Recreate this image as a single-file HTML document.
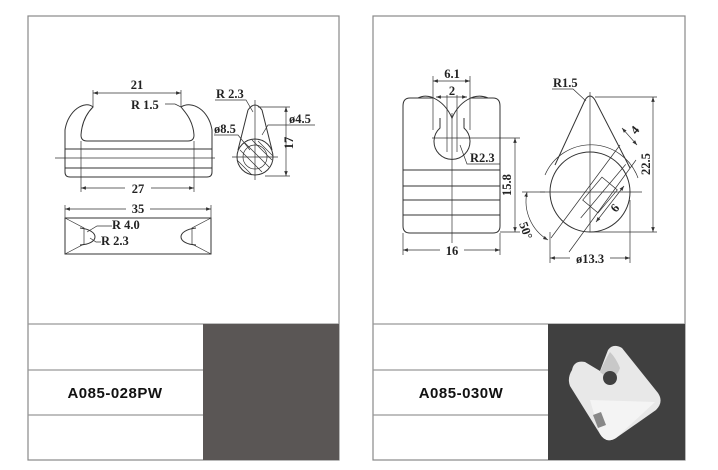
<!DOCTYPE html>
<html><head><style>
html,body{margin:0;padding:0;background:#fff;width:718px;height:470px;overflow:hidden}
svg{display:block}
text{font-family:"Liberation Serif",serif;font-weight:bold;font-size:12.5px;fill:#222}
.l{stroke:#333;stroke-width:1;fill:none}
.t{stroke:#333;stroke-width:0.7;fill:none}
.p{font-family:"Liberation Sans",sans-serif;font-weight:bold;font-size:15px;letter-spacing:0.5px;fill:#111}
</style></head><body>
<svg width="718" height="470" viewBox="0 0 718 470">
<defs><marker id="a" markerWidth="8" markerHeight="6" refX="7" refY="3" orient="auto-start-reverse"><path d="M0,0.5 L7,3 L0,5.5" fill="#333"/></marker></defs>
<rect x="28" y="16" width="311" height="444" fill="#fff" stroke="#888" stroke-width="1.2"/>
<rect x="373" y="16" width="312" height="444" fill="#fff" stroke="#888" stroke-width="1.2"/>
<g stroke="#999" stroke-width="1.2">
<line x1="28" y1="324" x2="339" y2="324"/><line x1="28" y1="370" x2="203" y2="370"/><line x1="28" y1="415" x2="203" y2="415"/>
<line x1="373" y1="324" x2="685" y2="324"/><line x1="373" y1="370" x2="548" y2="370"/><line x1="373" y1="415" x2="548" y2="415"/>
</g>
<rect x="203" y="324" width="136" height="136" fill="#5a5655"/>
<rect x="548" y="324" width="137" height="136" fill="#404040"/>
<text class="p" x="115" y="398" text-anchor="middle">A085-028PW</text>
<text class="p" x="461" y="398" text-anchor="middle">A085-030W</text>

<!-- left drawing -->
<path class="l" d="M93,107 C85,100 68,110 65,130 L65,172 Q65,177 70,177 L207,177 Q212,177 212,172 L212,130 C209,110 192,100 181,107 C185,112 193,120 194,135 Q194,141 188,141 L87,141 Q81,141 81,135 C82,120 88,112 93,107 Z"/>
<line class="l" x1="65" y1="149" x2="212" y2="149"/><line class="l" x1="65" y1="168" x2="212" y2="168"/>
<line class="t" x1="55" y1="158" x2="215" y2="158"/>
<line class="t" x1="81" y1="141" x2="81" y2="192"/><line class="t" x1="194" y1="141" x2="194" y2="192"/>
<line class="t" x1="93" y1="90" x2="93" y2="107"/><line class="t" x1="181" y1="90" x2="181" y2="107"/>
<line class="t" x1="93" y1="93" x2="181" y2="93" marker-start="url(#a)" marker-end="url(#a)"/>
<text x="137" y="89" text-anchor="middle">21</text>
<text x="131" y="109">R 1.5</text>
<path class="t" d="M165,104 L175,104 L181,107"/>
<line class="t" x1="81" y1="188" x2="194" y2="188" marker-start="url(#a)" marker-end="url(#a)"/>
<rect x="125" y="181" width="26" height="13" fill="#fff"/><text x="138" y="193" text-anchor="middle">27</text>
<line class="t" x1="65" y1="205" x2="65" y2="218"/><line class="t" x1="211" y1="205" x2="211" y2="218"/>
<line class="t" x1="65" y1="209" x2="211" y2="209" marker-start="url(#a)" marker-end="url(#a)"/>
<rect x="126" y="202" width="24" height="13" fill="#fff"/><text x="138" y="213" text-anchor="middle">35</text>
<rect class="l" x="65" y="218" width="146" height="36"/>
<path class="t" d="M65,218 L84,228 L84,244 L65,254 M211,218 L192,228 L192,244 L211,254"/>
<path class="l" d="M80,228 C100,230 100,244 80,245 M196,228 C176,230 176,244 196,245"/>
<text x="112" y="229">R 4.0</text><text x="101" y="245">R 2.3</text>
<path class="t" d="M112,226 L97,226 L87,232 M101,242 L96,242 L90,238"/>
<!-- side view -->
<path class="l" d="M248,110 Q255,100 262,110 L272,150 M248,110 L238,150"/>
<circle class="l" cx="255" cy="157" r="18"/>
<circle class="t" cx="255" cy="157" r="12"/>
<path class="t" d="M240,150 L262,172 M237,160 L252,175 M245,143 L269,167 M252,140 L272,160 M258,141 L273,156"/>
<line class="t" x1="255" y1="100" x2="255" y2="180"/><line class="t" x1="232" y1="157" x2="278" y2="157"/>
<line class="t" x1="258" y1="107" x2="290" y2="107"/><line class="t" x1="265" y1="176" x2="290" y2="176"/>
<line class="t" x1="286" y1="107" x2="286" y2="176" marker-start="url(#a)" marker-end="url(#a)"/>
<text transform="translate(293,143) rotate(-90)" text-anchor="middle">17</text>
<text x="216" y="98">R 2.3</text><path class="t" d="M215,100 L246,100 L253,112"/>
<text x="289" y="123">ø4.5</text><path class="t" d="M315,125 L268,125 L262,135"/>
<text x="214" y="133">ø8.5</text><path class="t" d="M214,135 L238,135 L250,150"/>

<!-- right front view -->
<path class="l" d="M433,98 L410,98 Q403,98 403,106 L403,226 Q403,233 410,233 L493,233 Q500,233 500,226 L500,106 Q500,98 493,98 L470,98"/>
<path class="l" d="M418,98 C430,92 445,102 452,118 C459,102 474,92 488,98"/>
<path class="l" d="M440,118 L440,128 A18,18 0 1 0 464,128 L464,118"/>
<line class="t" x1="433" y1="76" x2="433" y2="130"/><line class="t" x1="470" y1="76" x2="470" y2="130"/>
<line class="t" x1="447" y1="95" x2="447" y2="152"/><line class="t" x1="457" y1="95" x2="457" y2="152"/>
<line class="t" x1="452" y1="113" x2="452" y2="256"/>
<line class="t" x1="433" y1="81" x2="470" y2="81" marker-start="url(#a)" marker-end="url(#a)"/>
<line class="t" x1="436" y1="97" x2="467" y2="97" marker-start="url(#a)" marker-end="url(#a)"/>
<text x="452" y="78" text-anchor="middle">6.1</text><text x="452" y="95" text-anchor="middle">2</text>
<g class="l"><line x1="403" y1="170" x2="500" y2="170"/><line x1="403" y1="186" x2="500" y2="186"/><line x1="403" y1="200" x2="500" y2="200"/><line x1="403" y1="215" x2="500" y2="215"/></g>
<line class="t" x1="432" y1="138" x2="520" y2="138"/><line class="t" x1="500" y1="232" x2="520" y2="232"/>
<line class="t" x1="515" y1="138" x2="515" y2="232" marker-start="url(#a)" marker-end="url(#a)"/>
<text transform="translate(511,185) rotate(-90)" text-anchor="middle">15.8</text>
<text x="470" y="162">R2.3</text><path class="t" d="M460,145 L467,164 L500,164"/>
<line class="t" x1="403" y1="233" x2="403" y2="255"/><line class="t" x1="500" y1="233" x2="500" y2="255"/>
<line class="t" x1="403" y1="250" x2="500" y2="250" marker-start="url(#a)" marker-end="url(#a)"/>
<rect x="440" y="243" width="24" height="13" fill="#fff"/><text x="452" y="255" text-anchor="middle">16</text>

<!-- right side view -->
<path class="l" d="M585,100 Q590,92 595,100 L630,168 M585,100 L555,165"/>
<circle class="l" cx="590" cy="192" r="40"/>
<path class="t" d="M545,175 A50,50 0 0 1 638,178"/>
<line class="t" x1="590" y1="92" x2="590" y2="232"/><line class="t" x1="540" y1="192" x2="642" y2="192"/>
<g class="t" transform="rotate(-50 600 195)">
<rect x="585" y="185" width="30" height="20"/><line x1="570" y1="195" x2="640" y2="195"/>
</g>
<path class="t" d="M551,238 L620,145 M569,252 L636,160"/>
<line class="t" x1="622" y1="128" x2="637" y2="145" marker-start="url(#a)" marker-end="url(#a)"/>
<text transform="translate(636,135) rotate(-50)" font-size="11">4</text>
<line class="t" x1="596" y1="222" x2="624" y2="186" marker-start="url(#a)" marker-end="url(#a)"/>
<text transform="translate(616,213) rotate(-50)" font-size="11">6</text>
<line class="t" x1="595" y1="97" x2="657" y2="97"/><line class="t" x1="590" y1="232" x2="657" y2="232"/>
<line class="t" x1="653" y1="97" x2="653" y2="232" marker-start="url(#a)" marker-end="url(#a)"/>
<text transform="translate(650,164) rotate(-90)" text-anchor="middle">22.5</text>
<text x="553" y="87">R1.5</text><path class="t" d="M552,89 L573,89 L586,101"/>
<line class="t" x1="550" y1="232" x2="550" y2="263"/><line class="t" x1="630" y1="200" x2="630" y2="263"/>
<line class="t" x1="550" y1="258" x2="630" y2="258" marker-start="url(#a)" marker-end="url(#a)"/>
<rect x="570" y="251" width="40" height="13" fill="#fff"/><text x="590" y="263" text-anchor="middle">ø13.3</text>
<path class="t" d="M527,192 A45,45 0 0 0 548,240" marker-start="url(#a)" marker-end="url(#a)"/>
<line class="t" x1="522" y1="192" x2="545" y2="192"/>
<text transform="translate(522,232) rotate(70)" text-anchor="middle">50°</text>

<!-- photo -->
<path d="M572,370 Q574,360 585,362 L600,371 Q603,363 608,350 Q613,343 622,348 L658,393 Q664,402 656,410 L616,438 Q606,444 600,434 L570,386 Q567,378 572,370 Z" fill="#e8e8e8"/>
<path d="M600,372 Q605,360 610,352 Q616,358 620,368 Q614,385 600,372 Z" fill="#c8c8c8"/>
<circle cx="610" cy="378" r="7" fill="#404040"/>
<path d="M590,400 L655,402 L616,438 Q606,444 600,434 Z" fill="#f4f4f4"/>
<path d="M593,415 L601,412 L606,425 L598,428 Z" fill="#888"/>
</svg>
</body></html>
